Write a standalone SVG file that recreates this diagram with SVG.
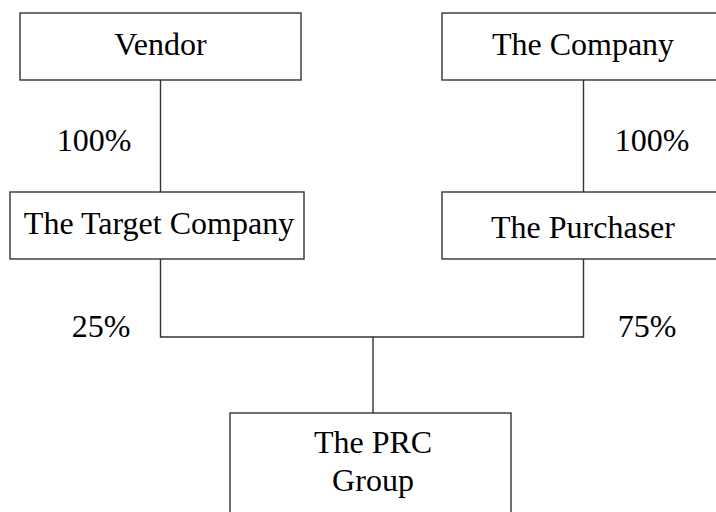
<svg xmlns="http://www.w3.org/2000/svg" width="716" height="512" viewBox="0 0 716 512">
<style>
.box{fill:#fff;stroke:#333;stroke-width:1.4}
.ln{fill:none;stroke:#333;stroke-width:1.4}
text{font-family:"Liberation Serif","Times New Roman",serif;font-size:32px;fill:#000}
.c{text-anchor:middle}
</style>
<rect width="716" height="512" fill="#fff"/>
<g id="connectors">
<line class="ln" x1="160.5" y1="80" x2="160.5" y2="192"/>
<line class="ln" x1="583.5" y1="80" x2="583.5" y2="192"/>
<polyline class="ln" points="160.5,259 160.5,337 583.5,337 583.5,259"/>
<line class="ln" x1="373" y1="337" x2="373" y2="413"/>
<text x="94" y="151" class="c">100%</text>
<text x="652" y="151" class="c">100%</text>
<text x="101" y="337" class="c">25%</text>
<text x="647" y="337" class="c">75%</text>
</g>
<g id="vendor">
<rect class="box" x="20" y="13" width="281" height="67"/>
<text x="160.5" y="55" class="c">Vendor</text>
</g>
<g id="company">
<rect class="box" x="442" y="13" width="290" height="67"/>
<text x="583" y="55" class="c">The Company</text>
</g>
<g id="target">
<rect class="box" x="10" y="192" width="294" height="67"/>
<text x="159" y="234" class="c">The Target Company</text>
</g>
<g id="purchaser">
<rect class="box" x="442" y="192" width="290" height="67"/>
<text x="583" y="238" class="c">The Purchaser</text>
</g>
<g id="prc">
<rect class="box" x="230" y="413" width="281" height="120"/>
<text x="373" y="453" class="c">The PRC</text>
<text x="373" y="491" class="c">Group</text>
</g>
</svg>
